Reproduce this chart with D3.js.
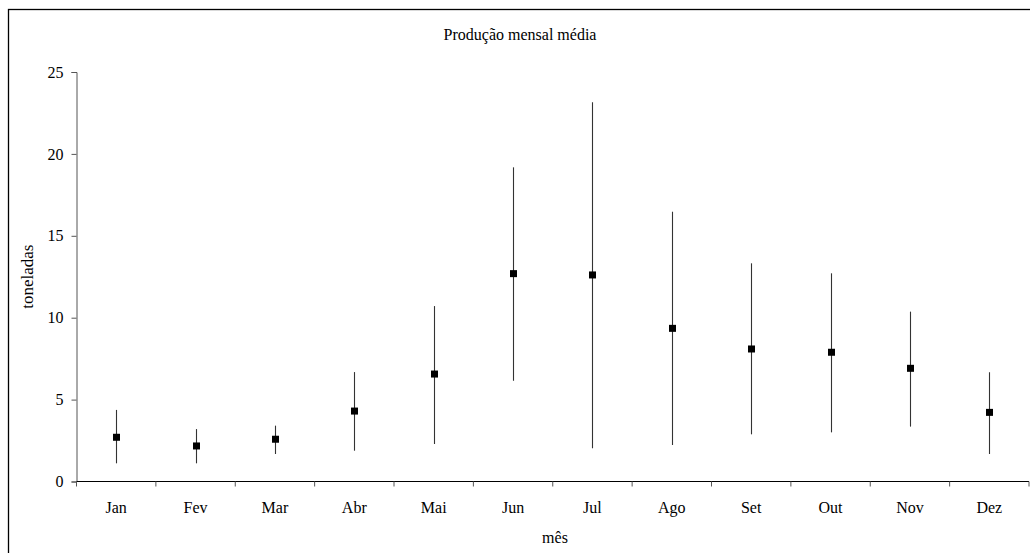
<!DOCTYPE html>
<html>
<head>
<meta charset="utf-8">
<script src="https://cdn.jsdelivr.net/npm/d3@7"></script>
<style>
  body { margin: 0; background: #fff; }
  svg text { font-family: "Liberation Serif", "Times New Roman", serif; fill: #000; }
</style>
</head>
<body>
<div id="chart"></div>
<script>
const months = ["Jan", "Fev", "Mar", "Abr", "Mai", "Jun", "Jul", "Ago", "Set", "Out", "Nov", "Dez"];
const meanValues = [2.70, 2.17, 2.58, 4.30, 6.56, 12.69, 12.61, 9.35, 8.09, 7.89, 6.91, 4.22];
const lowValues = [1.11, 1.11, 1.68, 1.88, 2.29, 6.15, 2.03, 2.23, 2.88, 3.00, 3.35, 1.68];
const highValues = [4.37, 3.20, 3.41, 6.68, 10.71, 19.18, 23.15, 16.47, 13.32, 12.71, 10.37, 6.67];
const yTicks = [0, 5, 10, 15, 20, 25];

const data = months.map((m, i) => ({ month: m, mean: meanValues[i], low: lowValues[i], high: highValues[i] }));

const W = 1030, H = 553;
const margin = { left: 76.5, right: 1, top: 72, bottom: 71.5 };
const serif = "Liberation Serif, Times New Roman, serif";

const svg = d3.select("#chart").append("svg")
  .attr("width", W)
  .attr("height", H);

// outer frame (cropped at right and bottom)
svg.append("rect")
  .attr("x", 8.5)
  .attr("y", 9.5)
  .attr("width", W + 20)
  .attr("height", H + 20)
  .attr("fill", "none")
  .attr("stroke", "#000")
  .attr("stroke-width", 1.3);

const x = d3.scaleBand()
  .domain(months)
  .range([margin.left, W - margin.right]);

const y = d3.scaleLinear()
  .domain([0, 25])
  .range([H - margin.bottom, margin.top]);

// y axis
const yAxis = svg.append("g")
  .attr("transform", `translate(${margin.left},0)`)
  .call(d3.axisLeft(y).tickValues(yTicks).tickSize(5).tickPadding(8));
yAxis.attr("font-family", serif);
yAxis.select(".domain").attr("stroke", "#555");
yAxis.selectAll(".tick line").attr("stroke", "#555");
yAxis.selectAll("text").attr("font-size", 16);

// x axis with ticks at category boundaries
const xAxisG = svg.append("g")
  .attr("transform", `translate(0,${y(0)})`);
xAxisG.append("line")
  .attr("x1", margin.left)
  .attr("x2", W - margin.right)
  .attr("stroke", "#000");
const bounds = months.map(m => x(m)).concat([x(months[months.length - 1]) + x.bandwidth()]);
xAxisG.selectAll(".bt")
  .data(bounds)
  .join("line")
  .attr("class", "bt")
  .attr("x1", d => d)
  .attr("x2", d => d)
  .attr("y1", 0)
  .attr("y2", 5)
  .attr("stroke", "#555");
xAxisG.selectAll(".lbl")
  .data(months)
  .join("text")
  .attr("class", "lbl")
  .attr("x", d => x(d) + x.bandwidth() / 2)
  .attr("y", 31.5)
  .attr("text-anchor", "middle")
  .attr("font-size", 16)
  .text(d => d);

// error bars
svg.selectAll(".err")
  .data(data)
  .join("line")
  .attr("class", "err")
  .attr("x1", d => Math.round(x(d.month) + x.bandwidth() / 2) + 0.5)
  .attr("x2", d => Math.round(x(d.month) + x.bandwidth() / 2) + 0.5)
  .attr("y1", d => y(d.low))
  .attr("y2", d => y(d.high))
  .attr("stroke", "#333")
  .attr("stroke-width", 1.1);

// mean markers
const s = 7;
svg.selectAll(".pt")
  .data(data)
  .join("rect")
  .attr("class", "pt")
  .attr("x", d => Math.round(x(d.month) + x.bandwidth() / 2) + 0.5 - s / 2)
  .attr("y", d => y(d.mean) - s / 2)
  .attr("width", s)
  .attr("height", s)
  .attr("fill", "#000");

// title
svg.append("text")
  .attr("x", 520)
  .attr("y", 40)
  .attr("text-anchor", "middle")
  .attr("font-size", 16)
  .text("Produção mensal média");

// axis titles
svg.append("text")
  .attr("transform", `translate(33,${(y(0) + y(25)) / 2}) rotate(-90)`)
  .attr("text-anchor", "middle")
  .attr("font-size", 17)
  .text("toneladas");

svg.append("text")
  .attr("x", 555)
  .attr("y", 543)
  .attr("text-anchor", "middle")
  .attr("font-size", 16)
  .text("mês");
</script>
</body>
</html>
